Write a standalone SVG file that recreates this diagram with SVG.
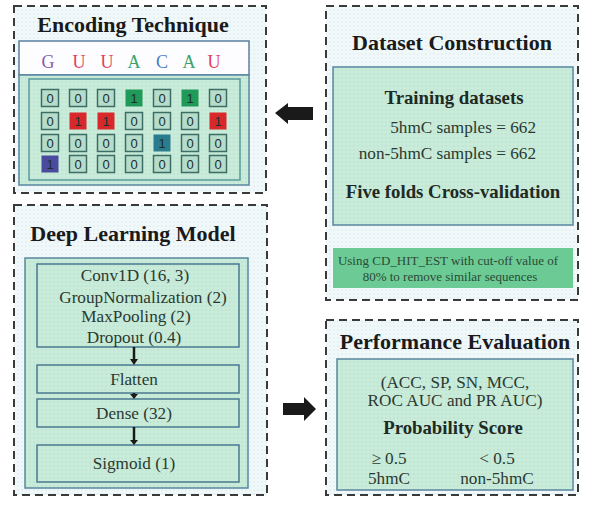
<svg xmlns="http://www.w3.org/2000/svg" width="595" height="512" viewBox="0 0 595 512">
<defs>
<pattern id="dots" width="4" height="4" patternUnits="userSpaceOnUse">
<rect width="4" height="4" fill="#f1f8f9"/>
<circle cx="2" cy="2" r="0.7" fill="#d4e6ea"/>
</pattern>
<pattern id="gdots" width="4" height="4" patternUnits="userSpaceOnUse">
<rect width="4" height="4" fill="#c9ebd9"/>
<circle cx="2" cy="2" r="0.7" fill="#b3dcc8"/>
</pattern>
</defs>
<style>
.panel{fill:url(#dots);stroke:#3a3a3a;stroke-width:2;stroke-dasharray:8 5}
.inner{fill:url(#gdots);stroke:#5a86a0;stroke-width:1.5}
.layer{fill:none;stroke:#4a7a90;stroke-width:1.5}
.title{font-family:"Liberation Serif",serif;font-weight:bold;font-size:22px;fill:#1a1a1a;text-anchor:middle}
.bt{font-family:"Liberation Serif",serif;font-weight:bold;font-size:18.8px;fill:#1e2a24;text-anchor:middle}
.t{font-family:"Liberation Serif",serif;font-size:17.2px;fill:#2a3a32;text-anchor:middle}
.sm{font-family:"Liberation Serif",serif;font-size:13px;fill:#2a4a36;text-anchor:middle}
.nt{font-family:"Liberation Sans",sans-serif;font-size:13px;fill:#1e2e28;text-anchor:middle}
.c0{fill:#b6dccb;stroke:#3d6e66;stroke-width:1.5}
.seq{font-family:"Liberation Serif",serif;font-size:18px;text-anchor:middle}
.arrow{fill:#1a1a1a}
</style>

<g id="encoding">
<rect class="panel" x="14" y="6" width="252" height="187"/>
<text class="title" x="133" y="32">Encoding Technique</text>
<rect x="19" y="41" width="230" height="34" fill="#fdfdff" stroke="#5a7fa0" stroke-width="1.5"/>
<text class="seq" x="48" y="68" fill="#8a5ca8">G</text>
<text class="seq" x="79" y="68" fill="#e23c5c">U</text>
<text class="seq" x="107" y="68" fill="#e23c5c">U</text>
<text class="seq" x="134" y="68" fill="#3aa36a">A</text>
<text class="seq" x="162" y="68" fill="#4a80c4">C</text>
<text class="seq" x="189" y="68" fill="#3aa36a">A</text>
<text class="seq" x="214" y="68" fill="#e23c5c">U</text>
<rect class="inner" x="19" y="75" width="230" height="110"/>
<rect x="29" y="79" width="211" height="101" fill="none" stroke="#5a9a9a" stroke-width="1.5"/>
<g>
<rect class="c0" x="41.5" y="89.5" width="17" height="17"/><text class="nt" x="50" y="103">0</text>
<rect class="c0" x="69.5" y="89.5" width="17" height="17"/><text class="nt" x="78" y="103">0</text>
<rect class="c0" x="97.5" y="89.5" width="17" height="17"/><text class="nt" x="106" y="103">0</text>
<rect x="125.5" y="89.5" width="17" height="17" fill="#1f9a58"/><text class="nt" x="134" y="103">1</text>
<rect class="c0" x="153.5" y="89.5" width="17" height="17"/><text class="nt" x="162" y="103">0</text>
<rect x="181.5" y="89.5" width="17" height="17" fill="#1f9a58"/><text class="nt" x="190" y="103">1</text>
<rect class="c0" x="209.5" y="89.5" width="17" height="17"/><text class="nt" x="218" y="103">0</text>
</g>
<g>
<rect class="c0" x="41.5" y="112.5" width="17" height="17"/><text class="nt" x="50" y="126">0</text>
<rect x="69.5" y="112.5" width="17" height="17" fill="#d8282c"/><text class="nt" x="78" y="126" fill="#f4c9b8">1</text>
<rect x="97.5" y="112.5" width="17" height="17" fill="#d8282c"/><text class="nt" x="106" y="126" fill="#f4c9b8">1</text>
<rect class="c0" x="125.5" y="112.5" width="17" height="17"/><text class="nt" x="134" y="126">0</text>
<rect class="c0" x="153.5" y="112.5" width="17" height="17"/><text class="nt" x="162" y="126">0</text>
<rect class="c0" x="181.5" y="112.5" width="17" height="17"/><text class="nt" x="190" y="126">0</text>
<rect x="209.5" y="112.5" width="17" height="17" fill="#d8282c"/><text class="nt" x="218" y="126" fill="#f4c9b8">1</text>
</g>
<g>
<rect class="c0" x="41.5" y="134.5" width="17" height="17"/><text class="nt" x="50" y="148">0</text>
<rect class="c0" x="69.5" y="134.5" width="17" height="17"/><text class="nt" x="78" y="148">0</text>
<rect class="c0" x="97.5" y="134.5" width="17" height="17"/><text class="nt" x="106" y="148">0</text>
<rect class="c0" x="125.5" y="134.5" width="17" height="17"/><text class="nt" x="134" y="148">0</text>
<rect x="153.5" y="134.5" width="17" height="17" fill="#2a7d8e"/><text class="nt" x="162" y="148">1</text>
<rect class="c0" x="181.5" y="134.5" width="17" height="17"/><text class="nt" x="190" y="148">0</text>
<rect class="c0" x="209.5" y="134.5" width="17" height="17"/><text class="nt" x="218" y="148">0</text>
</g>
<g>
<rect x="41.5" y="155.5" width="17" height="17" fill="#4a4a9e"/><text class="nt" x="50" y="169" fill="#d8d8f0">1</text>
<rect class="c0" x="69.5" y="155.5" width="17" height="17"/><text class="nt" x="78" y="169">0</text>
<rect class="c0" x="97.5" y="155.5" width="17" height="17"/><text class="nt" x="106" y="169">0</text>
<rect class="c0" x="125.5" y="155.5" width="17" height="17"/><text class="nt" x="134" y="169">0</text>
<rect class="c0" x="153.5" y="155.5" width="17" height="17"/><text class="nt" x="162" y="169">0</text>
<rect class="c0" x="181.5" y="155.5" width="17" height="17"/><text class="nt" x="190" y="169">0</text>
<rect class="c0" x="209.5" y="155.5" width="17" height="17"/><text class="nt" x="218" y="169">0</text>
</g>
</g>

<g id="dataset">
<rect class="panel" x="326" y="6" width="252" height="294"/>
<text class="title" x="452" y="50">Dataset Construction</text>
<rect class="inner" x="333" y="67" width="240" height="158"/>
<text class="bt" x="454" y="104">Training datasets</text>
<text class="t" x="536" y="133" style="text-anchor:end">5hmC samples = 662</text>
<text class="t" x="536" y="159" style="text-anchor:end">non-5hmC samples = 662</text>
<text class="bt" x="453" y="198">Five folds Cross-validation</text>
<rect x="333" y="248" width="240" height="40" fill="#6ccb95"/>
<text class="sm" x="448" y="265">Using CD_HIT_EST with cut-off value of</text>
<text class="sm" x="450" y="281">80% to remove similar sequences</text>
</g>

<g id="deeplearning">
<rect class="panel" x="14" y="205" width="253" height="290"/>
<text class="title" x="133" y="241">Deep Learning Model</text>
<rect class="inner" x="25" y="258" width="223" height="230"/>
<rect class="layer" x="37" y="264" width="202" height="83"/>
<text class="t" x="135" y="281">Conv1D (16, 3)</text>
<text class="t" x="143" y="303">GroupNormalization (2)</text>
<text class="t" x="136" y="322">MaxPooling (2)</text>
<text class="t" x="134" y="343">Dropout (0.4)</text>
<rect class="layer" x="37" y="365" width="202" height="28"/>
<text class="t" x="134" y="385">Flatten</text>
<rect class="layer" x="37" y="399" width="202" height="28"/>
<text class="t" x="134" y="419">Dense (32)</text>
<rect class="layer" x="37" y="445" width="202" height="37"/>
<text class="t" x="134" y="469">Sigmoid (1)</text>
</g>

<g id="performance">
<rect class="panel" x="326" y="320" width="252" height="175"/>
<text class="title" x="455" y="349">Performance Evaluation</text>
<rect class="inner" x="337" y="359" width="236" height="131"/>
<text class="t" x="455" y="388">(ACC, SP, SN, MCC,</text>
<text class="t" x="455" y="406">ROC AUC and PR AUC)</text>
<text class="bt" x="453" y="434">Probability Score</text>
<text class="t" x="389" y="464">≥ 0.5</text>
<text class="t" x="497" y="464">&lt; 0.5</text>
<text class="t" x="389" y="484">5hmC</text>
<text class="t" x="497" y="484">non-5hmC</text>
</g>

<g id="connectors">
<polygon class="arrow" points="275,113 288,103 288,107 313,107 313,120 288,120 288,124"/>
<polygon class="arrow" points="316,409 304,397 304,403 283,403 283,415 304,415 304,421"/>
<g stroke="#1a1a1a" stroke-width="2.5">
<line x1="134" y1="347" x2="134" y2="360"/>
<line x1="134" y1="393" x2="134" y2="395"/>
<line x1="134" y1="427" x2="134" y2="441"/>
</g>
<g class="arrow">
<polygon points="130,359 138,359 134,365"/>
<polygon points="130,394 138,394 134,399"/>
<polygon points="130,440 138,440 134,445"/>
</g>
</g>
</svg>
